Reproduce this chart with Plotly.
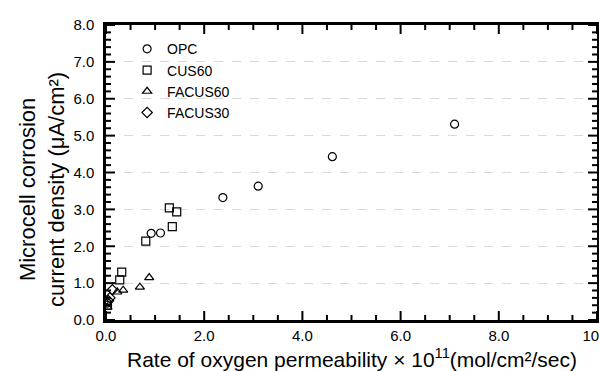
import numpy as np
import plotly.graph_objects as go

opc_x = [7.10, 4.61, 3.10, 2.38, 1.11, 0.92, 0.03]
opc_y = [5.31, 4.43, 3.63, 3.32, 2.36, 2.35, 0.46]

cus60_x = [1.29, 1.44, 1.35, 0.81, 0.32, 0.28, 0.03]
cus60_y = [3.04, 2.93, 2.53, 2.14, 1.30, 1.09, 0.40]

facus60_x = [0.88, 0.69, 0.35, 0.23, 0.03]
facus60_y = [1.15, 0.89, 0.81, 0.76, 0.35]

facus30_x = [0.13, 0.08, 0.05]
facus30_y = [0.82, 0.60, 0.52]

x_range = [0, 10]
y_range = [0, 8]
x_major, x_minor = 2.0, 0.5
y_major, y_minor = 1.0, 0.2

x_title = "Rate of oxygen permeability × 10<sup>11</sup>(mol/cm²/sec)"
y_title = "Microcell corrosion<br>current density (μA/cm²)"

W, H = 599, 371
ML, MR, MT, MB = 106, 2, 25, 51
plot_w, plot_h = W - ML - MR, H - MT - MB

series = [
    ("OPC", opc_x, opc_y, "circle-open"),
    ("CUS60", cus60_x, cus60_y, "square-open"),
    ("FACUS60", facus60_x, facus60_y, "triangle-up-open"),
    ("FACUS30", facus30_x, facus30_y, "diamond-open"),
]

fig = go.Figure()

# inward-pointing tick marks on all four sides, as a line trace (axis decoration)
px_x = (x_range[1] - x_range[0]) / plot_w   # data units per pixel along x
px_y = (y_range[1] - y_range[0]) / plot_h   # data units per pixel along y
tx, ty = [], []
for v in np.arange(x_range[0], x_range[1] + 1e-9, x_minor):
    major = abs(v / x_major - round(v / x_major)) < 1e-6
    L = (9 if major else 5) * px_y
    tx += [v, v, None, v, v, None]
    ty += [y_range[0], y_range[0] + L, None, y_range[1], y_range[1] - L, None]
for v in np.arange(y_range[0], y_range[1] + 1e-9, y_minor):
    major = abs(v / y_major - round(v / y_major)) < 1e-6
    L = (9 if major else 5) * px_x
    ty += [v, v, None, v, v, None]
    tx += [x_range[0], x_range[0] + L, None, x_range[1], x_range[1] - L, None]
fig.add_trace(go.Scatter(x=tx, y=ty, mode="lines", line=dict(color="black", width=2),
                         showlegend=False, hoverinfo="skip", cliponaxis=False))

for name, xs, ys, sym in series:
    fig.add_trace(go.Scatter(
        x=xs, y=ys, mode="markers", name=name,
        marker=dict(symbol=sym, size=8, color="black", line=dict(width=1.2, color="black")),
    ))

font = "Liberation Sans, Arial, sans-serif"
fig.update_layout(
    width=W, height=H,
    margin=dict(l=ML, r=MR, t=MT, b=MB, autoexpand=False),
    paper_bgcolor="white", plot_bgcolor="white",
    font=dict(family=font, color="black"),
    showlegend=True,
    legend=dict(x=0.043, y=0.972, xanchor="left", yanchor="top",
                bgcolor="rgba(0,0,0,0)", font=dict(size=14, family=font, color="black")),
    xaxis=dict(
        range=x_range, dtick=x_major, tickformat=".1f",
        showline=True, linecolor="black", linewidth=2.5, mirror=True,
        ticks="", showgrid=False, zeroline=False, ticklabeloverflow="allow",
        automargin=False, tickfont=dict(size=15, family=font),
    ),
    yaxis=dict(
        range=y_range, dtick=y_major, tickformat=".1f",
        showline=True, linecolor="black", linewidth=2.5, mirror=True,
        ticks="", showgrid=True, gridcolor="#d9d9d9", griddash="dash", gridwidth=1,
        zeroline=False, ticklabelstandoff=6, automargin=False,
        tickfont=dict(size=15, family=font),
    ),
    annotations=[
        dict(text=x_title, xref="paper", yref="paper", x=0.5, y=0,
             xanchor="center", yanchor="middle", yshift=-38, showarrow=False,
             font=dict(size=21, family=font, color="black")),
        dict(text=y_title, xref="paper", yref="paper", x=0, y=0.4407,
             xanchor="center", yanchor="middle", xshift=-64, showarrow=False,
             textangle=-90, font=dict(size=22, family=font, color="black")),
    ],
)
fig.write_html("out.html")
